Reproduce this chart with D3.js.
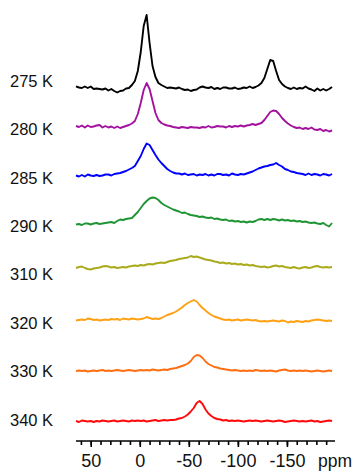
<!DOCTYPE html>
<html>
<head>
<meta charset="utf-8">
<script src="https://cdn.jsdelivr.net/npm/d3@7"></script>
<style>
  body { margin: 0; background: #fff; }
  svg { display: block; font-family: "Liberation Sans", Arial, sans-serif; }
</style>
</head>
<body>
<svg id="chart"></svg>
<script>
// chemical shift grid (ppm) shared by all spectra
const ppmGrid = [
    65, 62, 59, 56, 53, 50, 47, 44, 41, 38, 35,
    32, 29, 26, 23, 20, 17, 14, 11, 8, 5, 2,
    -1, -4, -7, -10, -13, -16, -19, -22, -25, -28, -31,
    -34, -37, -40, -43, -46, -49, -52, -55, -58, -61, -64,
    -67, -70, -73, -76, -79, -82, -85, -88, -91, -94, -97,
    -100, -103, -106, -109, -112, -115, -118, -121, -124, -127, -130,
    -133, -136, -139, -142, -145, -148, -151, -154, -157, -160, -163,
    -166, -169, -172, -175, -178, -181, -184, -187, -190, -193, -196
];

const temperatures = ["275 K", "280 K", "285 K", "290 K", "310 K", "320 K", "330 K", "340 K"];
const colors = ["#000000", "#a3129f", "#0000ff", "#1f9433", "#a9aa1c", "#ffa114", "#ff6f12", "#ff0a0a"];

// vertical stacking offset of each spectrum (intensity units)
const offsets = [353, 314, 266, 217, 173, 121, 70, 20];

// intensities, one value per ppmGrid entry
const s275 = [
    1.7, 0.5, 0, 1.5, 0, 1.5, -1, -0.5, -1, -1.5, -0.5,
    -2.5, -1, -3, -4.5, -3, -2.5, -0.5, 0, 3, 7, 17,
    36, 62, 73, 45, 22, 11, 5, 3, 1.5, 0, 0.5,
    0, -0.5, 0.5, -1, -2, -1.5, -3, -2, -1.5, 0.5, 1.5,
    0.5, 0, 1, -1, 0, -1, 0.5, 0.5, -0.5, -0.5, 0.5,
    -1, -0.5, 0.5, 0, 1.5, 0, 1, 2.5, 5, 10, 19,
    28, 27, 17, 8, 4, 1.5, 0, -1, 0.5, -1, 0,
    -0.5, 1.5, -0.5, -1.5, -3, -0.5, -2.5, -1, -2.5, -1, 1
];
const s280 = [
    1, 0, 1.5, -0.5, 1.5, 0, 0.5, 1.5, 2, -0.5, 1,
    -0.5, 0.5, -1, 0.5, -1, 0, 1, 2, 3.5, 6, 13,
    24, 37, 44, 38, 26, 14, 7, 4, 2.5, 1.5, 1,
    0, -0.5, -1, 0, -0.5, -1, 0, -0.5, -0.5, -1, 0,
    -0.5, 1, -0.5, 0, 1, 0.5, 0.5, -0.5, 1, 0, 1,
    0.5, 1.5, 0.5, 1.5, 2, 3, 2, 3, 4, 7, 11,
    15, 16.5, 16, 13, 9, 6, 3.5, 1.5, 0, -1, -0.5,
    -2, -1, -2, -0.5, -2.5, -3, -2, -4, -3, -4.5, -3.5
];
const s285 = [
    -0.5, -1.5, 0, -1.5, 0.5, -0.5, -1, 0, -1, -0.5, 0.5,
    0.5, -0.5, 1, 1.5, 2, 3, 4, 5.5, 7, 9, 14,
    19, 26, 31.5, 30, 25, 20, 15.5, 12, 9, 6, 4,
    2.5, 1.5, 1.5, 0.5, 1.5, 0, 0.5, 1, -0.5, 0.5, 0,
    1, -0.5, 0.5, -0.5, 1, 1, 0, 0.5, -0.5, 1.5, 0.5,
    0, 1, 0.5, 1.5, 2.5, 3.5, 5, 6.5, 7.5, 8.5, 9,
    10, 10.5, 12, 10, 8.5, 6, 5, 3.5, 3, 2, 1.5,
    1, 0, 1.5, 0, 1, 0.5, -0.5, 1, 0.5, -0.5, 1
];
const s290 = [
    -0.5, 0, -1, 0.5, 0.5, -0.5, 0.5, 1, 0, 0.5, 1,
    1.5, 2, 1, 3, 4.5, 4, 5, 5.5, 6, 9, 12,
    16, 20, 23, 25.5, 26.5, 26, 24, 21, 19, 17.5, 16,
    14.5, 13.5, 12.5, 11, 11.5, 10, 9, 8.5, 8, 7, 7.5,
    6.5, 6, 6.5, 5, 5.5, 4.5, 4, 4.5, 3, 3.5, 2.5,
    3, 2, 2.5, 1.5, 2.5, 2, 3, 4.5, 5, 4, 5,
    4, 5, 4.5, 3.5, 4.5, 3.5, 4, 3, 3.5, 2.5, 3,
    2, 2.5, 1.5, 1, 1.5, 0.5, 0, 1, -1, -2.5, 1
];
const s310 = [
    0, 1, 1.5, 0, -1, -1.5, -0.5, 0, 0.5, 1.5, 2,
    1.5, 0.5, 1, 0, 0.5, 1, 0.5, 1.5, 2, 2.5, 2,
    3, 2.5, 3.5, 4, 3.5, 4.5, 5, 5.5, 5, 6, 7,
    7.5, 8, 9, 9.5, 10, 10.5, 12, 11, 11.5, 10.5, 9.5,
    8.5, 8, 7.5, 6.5, 6, 5, 5.5, 4.5, 5, 4, 4.5,
    3.5, 4, 3, 3.5, 2.5, 3, 2, 1.5, 1, 1.5, 0.5,
    1, 2, 2.5, 1.5, 2, 1, 0.5, 0, 1, 0, -0.5,
    0.5, 1, 0, 0.5, 1.5, 2, 1, 0.5, 1, 0.5, 1
];
const s320 = [
    -0.5, 0, 0.5, 0, 1.5, 1, 0, 0.5, -0.5, 0, 0.5,
    0, 1, 0.5, 1, 0, 1.5, 1, 0.5, 1.5, 1, 0.5,
    1, 1.5, 3, 2, 1, 1.5, 1, 2, 3.5, 5, 6,
    7, 8.5, 10.5, 12.5, 15, 17, 18.5, 20, 18.5, 15, 12,
    9.5, 7, 5, 3.5, 2.5, 1.5, 0.5, 0, 0.5, -0.5, 0,
    0.5, -0.5, 0, 0.5, 0, -0.5, 0, -1, -1.5, -1, -1.5,
    -1, -0.5, -1, -1.5, -0.5, -1, -2.5, -1.5, -2, -1, -1.5,
    -2, -1, -1.5, -0.5, 0, 0.5, 0, -0.5, -1, -0.5, -1
];
const s330 = [
    0, 0.5, 0, 0.5, -0.5, 0, 0.5, 0, 0.5, 1, 0,
    0.5, 0, 0.5, 1, 0.5, 0, 0.5, 1, 0.5, 0, 0.5,
    1, 0.5, 1, 0.5, 1.5, 1, 0.5, 1, 1.5, 1, 2,
    2.5, 3, 4, 5, 6, 7.5, 10, 14, 16, 15.5, 13,
    9.5, 7, 5.5, 4, 3.5, 2.5, 2, 1.5, 1, 0.5, 1,
    0.5, 0, 0.5, 0, 0.5, 0, 1, 0.5, 0, 0.5, 0,
    0.5, 0, -0.5, 0.5, 1, 1.5, 0.5, 0, 0.5, 0, 0.5,
    0, 0.5, 0, -0.5, 0, 0.5, 0, -0.5, 0, 0.5, 0
];
const s340 = [
    0, -1, 0.5, 0, -0.5, 0, -1, 0, -0.5, 0.5, 0,
    -0.5, 0, 0.5, -0.5, 0, 0.5, 0, -0.5, 0.5, 0, 0.5,
    0, 0.5, -0.5, 0, 0.5, 1, 0, 0.5, 1, 0.5, 1,
    1, 1.5, 2.5, 3, 4.5, 6.5, 9.5, 13, 18, 20, 17,
    11.5, 7.5, 5, 3, 2, 1.5, 0.5, 1, 0, 0.5, 0,
    0.5, 0, -0.5, 0, 0.5, 0, 0.5, 0, -0.5, 0, 0.5,
    0, -0.5, 0, 0.5, 0, -1, -0.5, 0, 0.5, 0, -0.5,
    0, -0.5, 0, 0.5, -0.5, 0, -1, -0.5, 0, 0.5, 0
];
const spectra = [s275, s280, s285, s290, s310, s320, s330, s340];

const majorTicks = [50, 0, -50, -100, -150];
const minorTicks = [60, 50, 40, 30, 20, 10, 0, -10, -20, -30, -40, -50, -60, -70, -80,
    -90, -100, -110, -120, -130, -140, -150, -160, -170, -180, -190];
const axisUnit = "ppm";

// ------------------- SVG ----------------------
const svgW = 357, svgH = 471;
const axisY = 441;

const svg = d3.select("#chart")
    .attr("width", svgW)
    .attr("height", svgH);

const xScale = d3.scaleLinear()
    .domain([65, -199])
    .range([76, 335]);

const yScale = d3.scaleLinear()
    .domain([0, 440])
    .range([441, 1]);

const labelY = d3.scalePoint()
    .domain(temperatures)
    .range([81, 420]);

const line = d3.line()
    .x((d, i) => xScale(ppmGrid[i]))
    .y(d => d);

// one path per temperature
svg.append("g")
    .selectAll("path")
    .data(spectra)
    .enter()
    .append("path")
    .attr("d", (s, k) => line(s.map(v => yScale(v + offsets[k]))))
    .attr("fill", "none")
    .attr("stroke", (s, k) => colors[k])
    .attr("stroke-width", 1.9)
    .attr("stroke-linejoin", "round");

svg.append("g")
    .selectAll("text")
    .data(temperatures)
    .enter()
    .append("text")
    .attr("x", 10)
    .attr("y", d => labelY(d))
    .attr("dy", "0.35em")
    .attr("font-size", 16.5)
    .attr("fill", "#111")
    .text(d => d);

// ----- x axis -----
const minorAxis = d3.axisBottom(xScale)
    .tickValues(minorTicks)
    .tickSize(4)
    .tickFormat("");

const majorAxis = d3.axisBottom(xScale)
    .tickValues(majorTicks)
    .tickSize(6)
    .tickPadding(7)
    .tickFormat(d => String(d));

const gMinor = svg.append("g")
    .attr("transform", `translate(0,${axisY})`)
    .call(minorAxis);
gMinor.select(".domain").remove();

const gMajor = svg.append("g")
    .attr("transform", `translate(0,${axisY})`)
    .call(majorAxis);
gMajor.select(".domain")
    .attr("d", `M${xScale.range()[0]},0H${xScale.range()[1]}`);

svg.selectAll(".tick line, .domain")
    .attr("stroke", "#000")
    .attr("stroke-width", 1.6);
gMajor.selectAll("text")
    .attr("font-size", 18)
    .attr("font-family", "Liberation Sans, Arial, sans-serif")
    .attr("fill", "#111");

svg.append("text")
    .attr("x", 318)
    .attr("y", 467)
    .attr("font-size", 17.5)
    .attr("fill", "#111")
    .text(axisUnit);
</script>
</body>
</html>
